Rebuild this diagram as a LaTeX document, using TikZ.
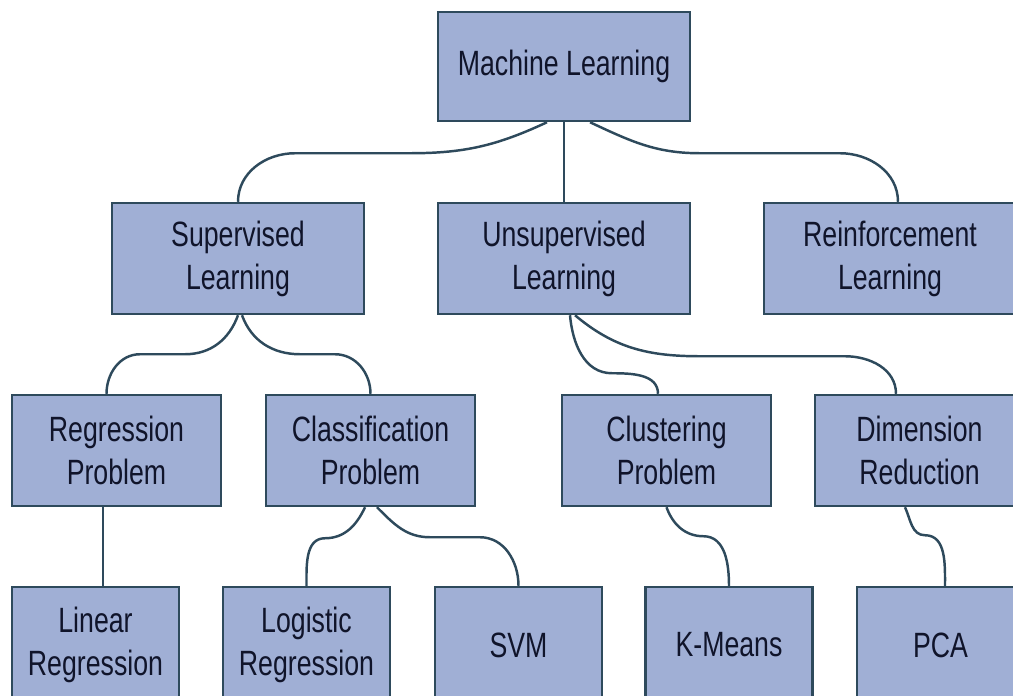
\documentclass[tikz,border=0pt]{standalone}
\usepackage{fontspec}
\setmainfont[FakeStretch=0.76]{Liberation Sans}
\usetikzlibrary{calc}
\definecolor{boxfill}{HTML}{A0AFD5}
\definecolor{boxline}{HTML}{2E4A5C}
\definecolor{boxtext}{HTML}{10142A}

\begin{document}
\begin{tikzpicture}[
        topic/.style={draw=boxline, fill=boxfill, line width=1.4pt, text=boxtext,
            align=center, inner sep=0pt, font=\fontsize{20}{24.5}\selectfont},
        widebox/.style={topic, minimum width=5.04cm, minimum height=2.22cm},
        midbox/.style={topic, minimum width=4.18cm, minimum height=2.22cm},
        leafbox/.style={topic, minimum width=3.34cm, minimum height=2.32cm},
        link/.style={draw=boxline, line width=1.4pt}
    ]
        % Plocha obrázku
        \useasboundingbox (0,0) rectangle (20.26,-13.9);
        \clip (0,0) rectangle (20.26,-13.9);

        % Kořen
        \node[widebox, minimum height=2.18cm] (ml) at (11.28,-1.33) {Machine Learning};

        % Druhá úroveň
        \node[widebox] (sup) at (4.76,-5.17) {Supervised\\Learning};
        \node[widebox] (uns) at (11.28,-5.17) {Unsupervised\\Learning};
        \node[widebox] (rei) at (17.80,-5.17) {Reinforcement\\Learning};

        % Třetí úroveň
        \node[midbox] (reg) at (2.33,-9.01) {Regression\\Problem};
        \node[midbox] (cls) at (7.41,-9.01) {Classification\\Problem};
        \node[midbox] (clu) at (13.33,-9.01) {Clustering\\Problem};
        \node[midbox] (dim) at (18.39,-9.01) {Dimension\\Reduction};

        % Algoritmy
        \node[leafbox] (lin) at (1.91,-12.9) {Linear\\Regression};
        \node[leafbox] (log) at (6.13,-12.9) {Logistic\\Regression};
        \node[leafbox] (svm) at (10.37,-12.9) {SVM};
        \node[leafbox] (kme) at (14.58,-12.9) {K-Means};
        \node[leafbox] (pca) at (18.81,-12.9) {PCA};

        % Spojnice od kořene
        \draw[link] ([xshift=-0.34cm]ml.south) to[out=-155,in=0] ++(-2.74,-0.62)
            -- ++(-2.3,0) to[out=180,in=90] (sup.north);
        \draw[link] (ml.south) -- (uns.north);
        \draw[link] ([xshift=0.52cm]ml.south) to[out=-25,in=180] ++(2.2,-0.62)
            -- ++(2.8,0) to[out=0,in=90] ([xshift=0.16cm]rei.north);

        % Spojnice druhé úrovně
        \draw[link] (sup.south) to[out=-110,in=0] ++(-1.06,-0.78)
            -- ++(-0.9,0) to[out=180,in=90] ([xshift=-0.2cm]reg.north);
        \draw[link] ([xshift=0.08cm]sup.south) to[out=-70,in=180] ++(1.16,-0.78)
            -- ++(0.7,0) to[out=0,in=90] (cls.north);
        \draw[link] ([xshift=0.12cm]uns.south) to[out=-85,in=180] ++(0.84,-1.16)
            to[out=0,in=90] ([xshift=-0.17cm]clu.north);
        \draw[link] ([xshift=0.22cm]uns.south) to[out=-40,in=180] ++(2.5,-0.82)
            -- ++(2.9,0) to[out=0,in=90] ([xshift=-0.47cm]dim.north);

        % Spojnice k algoritmům
        \draw[link] ($(lin.north)+(0.15,0)$) -- ($(lin.north |- reg.south)+(0.15,0)$);
        \draw[link] ([xshift=-0.11cm]cls.south) to[out=-115,in=0] ++(-0.8,-0.62)
            to[out=180,in=90] (log.north);
        \draw[link] ([xshift=0.13cm]cls.south) to[out=-45,in=180] ++(1.06,-0.6)
            -- ++(1.0,0) to[out=0,in=90] (svm.north);
        \draw[link] (clu.south) to[out=-70,in=180] ++(0.74,-0.58)
            to[out=0,in=90] (kme.north);
        \draw[link] ([xshift=-0.29cm]dim.south) to[out=-65,in=180] ++(0.4,-0.56)
            to[out=0,in=90] ([xshift=0.09cm]pca.north);
    \end{tikzpicture}
\end{document}
